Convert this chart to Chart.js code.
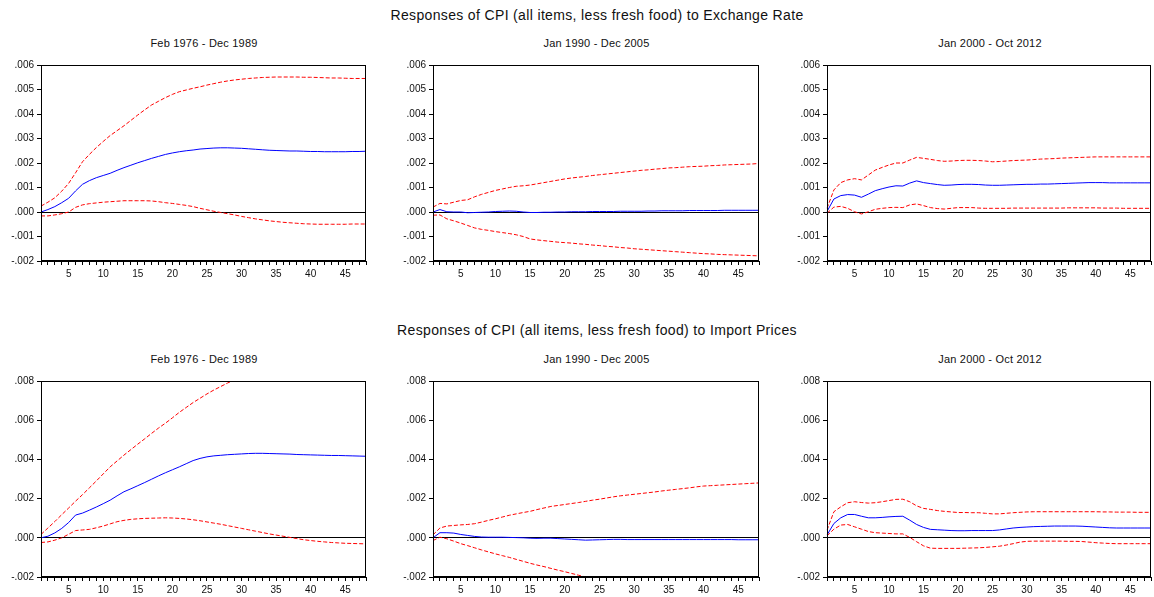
<!DOCTYPE html>
<html>
<head>
<meta charset="utf-8">
<script src="https://cdn.jsdelivr.net/npm/chart.js@4/dist/chart.umd.min.js"></script>
<style>
  html, body { margin: 0; padding: 0; background: #fff; overflow: hidden; }
  body { width: 1154px; height: 597px; position: relative; font-family: "Liberation Sans", Arial, sans-serif; color: #111; }
  .titulo { position: absolute; text-align: center; font-size: 14px; line-height: 14px; letter-spacing: 0.35px; white-space: nowrap; }
  .sub { position: absolute; text-align: center; font-size: 11px; line-height: 11px; letter-spacing: 0.2px; white-space: nowrap; }
  canvas { position: absolute; }
</style>
</head>
<body>
<div class="titulo" style="left:297px;width:600px;top:8px">Responses of CPI (all items, less fresh food) to Exchange Rate</div>
<div class="titulo" style="left:297px;width:600px;top:323px">Responses of CPI (all items, less fresh food) to Import Prices</div>

<script>
// horizon (months)
const periods = [1,2,3,4,5,6,7,8,9,10,11,12,13,14,15,16,17,18,19,20,21,22,23,24,
                 25,26,27,28,29,30,31,32,33,34,35,36,37,38,39,40,41,42,43,44,45,46,47,48]

const sampleLabels = ['Feb 1976 - Dec 1989', 'Jan 1990 - Dec 2005', 'Jan 2000 - Oct 2012']

const erTicks = [-0.002, -0.001, 0, 0.001, 0.002, 0.003, 0.004, 0.005, 0.006]
const ipTicks = [-0.002, 0, 0.002, 0.004, 0.006, 0.008]

// --- exchange rate shock ---
const er76Resp = [0,0.0001,0.00022,0.00038,0.00056,0.00086,0.00113,0.00128,0.0014,0.00149,0.00158,0.0017,
  0.00181,0.00191,0.00201,0.0021,0.00219,0.00227,0.00235,0.00241,0.00246,0.0025,0.00253,0.00257,
  0.00259,0.00261,0.00262,0.00262,0.00261,0.0026,0.00258,0.00256,0.00254,0.00252,0.00251,0.0025,
  0.00249,0.00249,0.00248,0.00247,0.00247,0.00246,0.00246,0.00246,0.00246,0.00247,0.00247,0.00248]
const er76Upper = [0.00024,0.0004,0.00058,0.00085,0.00117,0.0016,0.00205,0.00235,0.00263,0.00288,0.00312,0.00332,
  0.00352,0.00374,0.00396,0.00417,0.00437,0.00452,0.00467,0.0048,0.00491,0.00498,0.00505,0.00511,
  0.00518,0.00524,0.0053,0.00535,0.00539,0.00542,0.00545,0.00547,0.00549,0.0055,0.00551,0.00551,
  0.00551,0.00551,0.0055,0.0055,0.00549,0.00548,0.00547,0.00547,0.00546,0.00545,0.00545,0.00545]
const er76Lower = [-0.00016,-0.00016,-0.00012,-0.00007,0,0.00019,0.00029,0.00034,0.00037,0.0004,0.00042,0.00044,
  0.00046,0.00046,0.00046,0.00046,0.00045,0.00042,0.00038,0.00035,0.00031,0.00027,0.00022,0.00015,
  0.00009,0.00003,-0.00002,-0.00007,-0.00012,-0.00018,-0.00023,-0.00028,-0.00032,-0.00036,-0.00039,-0.00042,
  -0.00044,-0.00046,-0.00048,-0.00049,-0.0005,-0.0005,-0.0005,-0.0005,-0.0005,-0.00049,-0.00049,-0.00049]

const er90Resp = [0,0.0001,0.00001,0,0,-0.00003,-0.00002,-0.00001,0,0.00002,0.00003,0.00004,
  0.00003,0,-0.00002,-0.00002,-0.00001,-0.00001,0,0,0.00001,0.00001,0.00001,0.00002,
  0.00002,0.00002,0.00002,0.00003,0.00003,0.00003,0.00003,0.00004,0.00004,0.00005,0.00005,0.00005,
  0.00005,0.00006,0.00006,0.00006,0.00006,0.00006,0.00007,0.00007,0.00007,0.00007,0.00007,0.00007]
const er90Upper = [0.0002,0.00035,0.00033,0.0004,0.00047,0.0005,0.00062,0.00072,0.0008,0.00088,0.00094,0.001,
  0.00105,0.00107,0.0011,0.00115,0.0012,0.00125,0.0013,0.00135,0.00139,0.00142,0.00145,0.00149,
  0.00152,0.00155,0.00158,0.00161,0.00164,0.00167,0.0017,0.00172,0.00175,0.00177,0.0018,0.00181,
  0.00183,0.00185,0.00186,0.00187,0.00189,0.0019,0.00192,0.00193,0.00194,0.00195,0.00196,0.00198]
const er90Lower = [-0.00013,-0.00012,-0.00028,-0.00036,-0.00045,-0.00055,-0.00065,-0.00071,-0.00075,-0.0008,-0.00084,-0.00088,
  -0.00093,-0.001,-0.0011,-0.00114,-0.00117,-0.0012,-0.00123,-0.00125,-0.00127,-0.0013,-0.00132,-0.00135,
  -0.00137,-0.0014,-0.00142,-0.00145,-0.00147,-0.0015,-0.00152,-0.00154,-0.00156,-0.00158,-0.0016,-0.00162,
  -0.00164,-0.00166,-0.00168,-0.0017,-0.00171,-0.00173,-0.00174,-0.00175,-0.00176,-0.00177,-0.00178,-0.00179]

const er00Resp = [0.00002,0.00053,0.00067,0.00071,0.00069,0.0006,0.00073,0.00087,0.00095,0.00102,0.00107,0.00106,
  0.00118,0.00127,0.0012,0.00116,0.00112,0.00109,0.0011,0.00112,0.00113,0.00113,0.00112,0.0011,
  0.00109,0.00109,0.0011,0.00111,0.00112,0.00113,0.00113,0.00114,0.00114,0.00115,0.00116,0.00117,
  0.00118,0.00119,0.0012,0.0012,0.0012,0.00119,0.00119,0.00119,0.00119,0.00119,0.00119,0.00119]
const er00Upper = [0.00015,0.0009,0.0012,0.00131,0.00136,0.00131,0.00151,0.00171,0.00182,0.00192,0.002,0.002,
  0.00212,0.00223,0.00219,0.00215,0.0021,0.00207,0.00208,0.0021,0.00211,0.00211,0.0021,0.00208,
  0.00205,0.00206,0.00208,0.0021,0.00211,0.00212,0.00214,0.00216,0.00217,0.00218,0.0022,0.00221,
  0.00222,0.00223,0.00224,0.00225,0.00225,0.00225,0.00225,0.00225,0.00225,0.00225,0.00225,0.00225]
const er00Lower = [-0.00005,0.0002,0.00023,0.00015,0.00001,-0.00008,0.00001,0.00011,0.00015,0.00018,0.00019,0.00018,
  0.00029,0.00033,0.00026,0.00018,0.00014,0.00012,0.00015,0.00018,0.00018,0.00018,0.00016,0.00015,
  0.00015,0.00015,0.00015,0.00016,0.00016,0.00016,0.00016,0.00016,0.00016,0.00016,0.00016,0.00017,
  0.00017,0.00017,0.00017,0.00017,0.00016,0.00016,0.00016,0.00015,0.00015,0.00015,0.00015,0.00015]

// --- import price shock ---
const ip76Resp = [0,0.00008,0.00025,0.00048,0.00078,0.00116,0.00126,0.00141,0.00157,0.00174,0.00192,0.00214,
  0.00235,0.0025,0.00266,0.00282,0.00299,0.00316,0.00332,0.00347,0.00362,0.00378,0.00394,0.00405,
  0.00413,0.00418,0.00421,0.00424,0.00426,0.00428,0.0043,0.00431,0.00431,0.0043,0.00429,0.00428,
  0.00427,0.00425,0.00424,0.00423,0.00422,0.00421,0.0042,0.0042,0.00419,0.00418,0.00417,0.00416]
const ip76Upper = [0.00017,0.0005,0.00083,0.00118,0.00152,0.00187,0.0022,0.00255,0.0029,0.00326,0.00362,0.00392,
  0.00422,0.0045,0.00478,0.00505,0.00533,0.0056,0.00585,0.00612,0.0064,0.00665,0.0069,0.00712,
  0.00734,0.00754,0.00772,0.0079,0.00806,0.0082,0.00833,0.00845,0.00855,0.00864,0.00872,0.00879,
  0.00885,0.0089,0.00894,0.00897,0.009,0.00902,0.00903,0.00904,0.00905,0.00905,0.00905,0.00905]
const ip76Lower = [-0.00024,-0.00021,-0.00012,0,0.00018,0.00037,0.0004,0.00043,0.00051,0.0006,0.00071,0.00082,
  0.00089,0.00094,0.00097,0.00099,0.001,0.00101,0.00102,0.00101,0.00099,0.00096,0.00092,0.00087,
  0.00081,0.00075,0.00069,0.00062,0.00055,0.00048,0.00041,0.00034,0.00027,0.0002,0.00014,0.00008,
  0.00002,-0.00004,-0.0001,-0.00014,-0.00018,-0.00021,-0.00024,-0.00026,-0.00028,-0.00029,-0.0003,-0.00031]

const ip90Resp = [0,0.00026,0.00026,0.00024,0.00017,0.00012,0.00007,0.00004,0.00003,0.00003,0.00003,0.00002,
  0.00001,0,-0.00002,-0.00003,-0.00002,-0.00002,-0.00004,-0.00006,-0.00008,-0.0001,-0.00012,-0.00011,
  -0.0001,-0.00009,-0.00008,-0.00008,-0.00009,-0.00009,-0.00009,-0.00009,-0.00009,-0.00009,-0.00009,-0.00009,
  -0.00009,-0.00009,-0.00009,-0.00009,-0.00009,-0.00009,-0.00009,-0.00009,-0.0001,-0.0001,-0.0001,-0.0001]
const ip90Upper = [0.00015,0.0005,0.0006,0.00063,0.00066,0.00068,0.00072,0.0008,0.00089,0.00097,0.00106,0.00115,
  0.00122,0.00129,0.00135,0.00144,0.00152,0.0016,0.00165,0.0017,0.00175,0.0018,0.00186,0.00192,
  0.00197,0.00203,0.00209,0.00214,0.00218,0.00222,0.00226,0.0023,0.00234,0.00239,0.00243,0.00247,
  0.00251,0.00255,0.0026,0.00264,0.00266,0.00268,0.0027,0.00272,0.00274,0.00276,0.00278,0.0028]
const ip90Lower = [-0.00014,0.00003,-0.00005,-0.00017,-0.0003,-0.0004,-0.00051,-0.00062,-0.00072,-0.00082,-0.00091,-0.001,
  -0.0011,-0.0012,-0.0013,-0.00139,-0.00147,-0.00156,-0.00165,-0.00173,-0.00182,-0.00191,-0.002,-0.00207,
  -0.00214,-0.0022,-0.00226,-0.00232,-0.00237,-0.00242,-0.00246,-0.0025,-0.00254,-0.00258,-0.00262,-0.00265,
  -0.00268,-0.00271,-0.00274,-0.00277,-0.0028,-0.00282,-0.00284,-0.00286,-0.00288,-0.0029,-0.00292,-0.00294]

const ip00Resp = [0.00014,0.00073,0.00102,0.00119,0.00119,0.0011,0.00102,0.00102,0.00104,0.00107,0.00109,0.0011,
  0.0009,0.00068,0.00053,0.00043,0.00041,0.00039,0.00037,0.00036,0.00036,0.00037,0.00037,0.00037,
  0.00037,0.0004,0.00045,0.0005,0.00053,0.00055,0.00057,0.00058,0.00059,0.0006,0.0006,0.0006,
  0.0006,0.00059,0.00057,0.00055,0.00053,0.00051,0.0005,0.0005,0.0005,0.0005,0.0005,0.0005]
const ip00Upper = [0.00039,0.00133,0.00158,0.00179,0.00184,0.0018,0.00177,0.00179,0.00184,0.0019,0.00196,0.00197,
  0.00184,0.00163,0.0015,0.00145,0.00139,0.00135,0.00132,0.00129,0.00129,0.00128,0.00128,0.00125,
  0.00122,0.00122,0.00125,0.00128,0.0013,0.00132,0.00133,0.00133,0.00133,0.00133,0.00133,0.00133,
  0.00133,0.00133,0.00133,0.00133,0.00132,0.00132,0.00131,0.00131,0.00131,0.0013,0.0013,0.0013]
const ip00Lower = [0.0001,0.00044,0.00065,0.00068,0.00056,0.00044,0.00032,0.00026,0.00024,0.00022,0.0002,0.0002,
  0.00002,-0.0002,-0.00041,-0.00053,-0.00054,-0.00054,-0.00054,-0.00054,-0.00053,-0.00052,-0.00051,-0.00049,
  -0.00046,-0.00043,-0.00037,-0.0003,-0.00022,-0.00018,-0.00017,-0.00017,-0.00017,-0.00017,-0.00017,-0.00018,
  -0.00018,-0.00019,-0.00022,-0.00025,-0.00027,-0.00029,-0.0003,-0.0003,-0.0003,-0.0003,-0.0003,-0.0003]

// panel placement (plot area edges, in page pixels)
const colLeft = [41, 433, 827]
const colRight = [367, 760, 1153]
const rowTop = [65, 381]
const plotHeight = 196
const yAxisWidth = 40
const xAxisHeight = 22
const padTop = 10

const paineis = [
  { row: 0, col: 0, resp: er76Resp, up: er76Upper, lo: er76Lower, ticks: erTicks },
  { row: 0, col: 1, resp: er90Resp, up: er90Upper, lo: er90Lower, ticks: erTicks },
  { row: 0, col: 2, resp: er00Resp, up: er00Upper, lo: er00Lower, ticks: erTicks },
  { row: 1, col: 0, resp: ip76Resp, up: ip76Upper, lo: ip76Lower, ticks: ipTicks },
  { row: 1, col: 1, resp: ip90Resp, up: ip90Upper, lo: ip90Lower, ticks: ipTicks },
  { row: 1, col: 2, resp: ip00Resp, up: ip00Upper, lo: ip00Lower, ticks: ipTicks }
]

// box around the plot area
const moldura = {
  id: 'moldura',
  afterDraw(chart) {
    const a = chart.chartArea
    const c = chart.ctx
    c.save()
    c.strokeStyle = '#000'
    c.lineWidth = 1
    c.strokeRect(Math.round(a.left) + 0.5, Math.round(a.top) + 0.5,
                 Math.round(a.right - a.left) - 1, Math.round(a.bottom - a.top) - 1)
    c.restore()
  }
}

function fmtY(v) {
  if (Math.abs(v) < 1e-9) return '.000'
  return v.toFixed(3).replace('0.', '.')
}

paineis.forEach(p => {
  const rightPad = p.col == 2 ? 1 : 2
  const left = colLeft[p.col] - yAxisWidth
  const top = rowTop[p.row] - padTop
  const w = colRight[p.col] - colLeft[p.col] + yAxisWidth + rightPad
  const h = plotHeight + padTop + xAxisHeight

  const sub = document.createElement('div')
  sub.className = 'sub'
  sub.style.left = colLeft[p.col] + 'px'
  sub.style.width = (colRight[p.col] - colLeft[p.col]) + 'px'
  sub.style.top = (rowTop[p.row] - 27) + 'px'
  sub.textContent = sampleLabels[p.col]
  document.body.appendChild(sub)

  const cv = document.createElement('canvas')
  cv.width = w
  cv.height = h
  cv.style.left = left + 'px'
  cv.style.top = top + 'px'
  document.body.appendChild(cv)

  const yMin = p.ticks[0]
  const yMax = p.ticks[p.ticks.length - 1]
  const yStep = p.ticks[1] - p.ticks[0]

  new Chart(cv.getContext('2d'), {
    type: 'line',
    data: {
      labels: periods,
      datasets: [
        { data: p.up, borderColor: '#ff0000', borderWidth: 1, borderDash: [4, 2] },
        { data: p.lo, borderColor: '#ff0000', borderWidth: 1, borderDash: [4, 2] },
        { data: p.resp, borderColor: '#0000ff', borderWidth: 1 }
      ]
    },
    options: {
      responsive: false,
      animation: false,
      events: [],
      layout: { padding: { top: padTop, right: rightPad, left: 0, bottom: 0 } },
      elements: { point: { radius: 0 }, line: { tension: 0 } },
      plugins: { legend: { display: false }, tooltip: { enabled: false } },
      scales: {
        x: {
          type: 'category',
          offset: false,
          afterFit: s => { s.height = xAxisHeight },
          grid: { drawOnChartArea: false, tickLength: 4, tickColor: '#000' },
          border: { color: '#000' },
          ticks: {
            autoSkip: false, maxRotation: 0, padding: 3,
            color: '#111', font: { family: 'Liberation Sans', size: 10 },
            callback: function (val, i) { return periods[i] % 5 == 0 ? String(periods[i]) : '' }
          }
        },
        y: {
          min: yMin, max: yMax,
          afterFit: s => { s.width = yAxisWidth },
          grid: {
            tickLength: 4, tickColor: '#000',
            color: ctx => (ctx.tick && Math.abs(ctx.tick.value) < 1e-9) ? '#000' : 'rgba(0,0,0,0)'
          },
          border: { color: '#000' },
          ticks: {
            stepSize: yStep, padding: 3,
            color: '#111', font: { family: 'Liberation Sans', size: 10 },
            callback: v => fmtY(v)
          }
        }
      }
    },
    plugins: [moldura]
  })
})
</script>
</body>
</html>
